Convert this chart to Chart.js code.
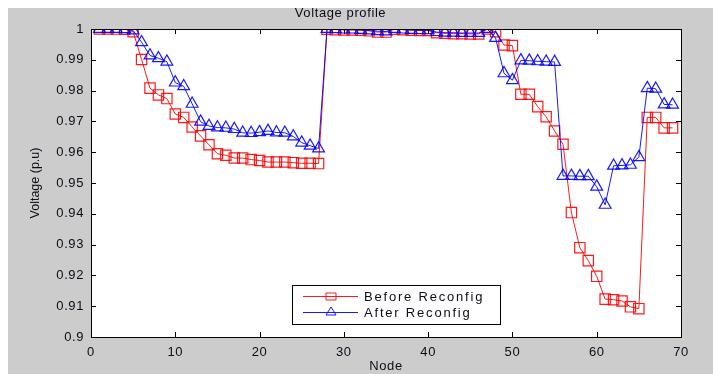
<!DOCTYPE html>
<html>
<head>
<meta charset="utf-8">
<script src="https://cdn.jsdelivr.net/npm/chart.js@4.4.1/dist/chart.umd.min.js"></script>
<style>
  html, body { margin: 0; padding: 0; background: #fff; }
  #myChart { display: block; }
</style>
</head>
<body>
<canvas id="myChart" width="713" height="374"></canvas>
<script>
const nodes = [1,2,3,4,5,6,7,8,9,10,11,12,13,14,15,16,17,18,19,20,21,22,23,24,25,26,27,28,29,30,
  31,32,33,34,35,36,37,38,39,40,41,42,43,44,45,46,47,48,49,50,51,52,53,54,55,56,57,58,59,60,
  61,62,63,64,65,66,67,68,69];

// before reconfiguration
const beforeV = [1.0000,1.0000,0.99997,0.99993,0.9991,0.9901,0.9808,0.9786,0.9774,0.9724,
  0.9713,0.9682,0.9653,0.9624,0.9595,0.9590,0.9581,0.9581,0.9576,0.9573,
  0.9568,0.9568,0.9568,0.9566,0.9564,0.9564,0.9563,0.9999,0.9998,0.9997,
  0.9997,0.9996,0.9994,0.9990,0.9990,0.9999,0.9998,0.9996,0.9995,0.9995,
  0.9988,0.9986,0.9985,0.9985,0.9984,0.9984,0.99998,0.9991,0.9948,0.9946,
  0.9788,0.9788,0.9748,0.9715,0.9669,0.9626,0.9404,0.9290,0.9248,0.9197,
  0.9123,0.9121,0.9117,0.9098,0.9092,0.9713,0.9713,0.9679,0.9679];

// after reconfiguration
const afterV = [1.0000,1.0000,1.0000,0.99995,0.9995,0.9957,0.9914,0.9905,0.9894,0.9826,
  0.9814,0.9757,0.9699,0.9685,0.9680,0.9679,0.9675,0.9663,0.9662,0.9665,
  0.9669,0.9664,0.9663,0.9651,0.9631,0.9621,0.9612,1.0000,0.9999,0.9998,
  0.9998,0.9997,0.9995,0.9993,0.9992,1.0000,0.9998,0.9997,0.9996,0.9996,
  0.9990,0.9988,0.9988,0.9987,0.9987,0.9987,1.0000,0.9971,0.9856,0.9834,
  0.9898,0.9897,0.9895,0.9894,0.9893,0.9523,0.9523,0.9522,0.9522,0.9488,
  0.9429,0.9556,0.9557,0.9559,0.9584,0.9808,0.9806,0.9755,0.9754];

const xTicks = [0,10,20,30,40,50,60,70];
const yTicks = [0.9,0.91,0.92,0.93,0.94,0.95,0.96,0.97,0.98,0.99,1];

const seriesNames = ["Before Reconfig", "After Reconfig"];
const titleText = "Voltage profile";
const xTitle = "Node";
const yTitle = "Voltage (p.u)";

const RED = "rgba(255, 0, 0, 0.9)";
const BLUE = "rgba(0, 0, 255, 0.9)";
const FONT = "'Liberation Sans', Arial, sans-serif";
const INK = "#0d0d1a";

function toPoints(vals) {
  return nodes.map((n, i) => ({ x: n, y: vals[i] }));
}

const matlabLook = {
  id: 'matlabLook',
  beforeDraw(chart) {
    const ctx = chart.ctx;
    const a = chart.chartArea;
    ctx.fillStyle = '#ffffff';
    ctx.fillRect(0, 0, chart.width, chart.height);
    ctx.fillStyle = '#cccccc';
    ctx.fillRect(8, 8, chart.width - 8, chart.height - 8);
    ctx.fillStyle = '#ffffff';
    ctx.fillRect(a.left, a.top, a.right - a.left, a.bottom - a.top);
    ctx.letterSpacing = '0.6px';
  },
  afterDraw(chart) {
    const ctx = chart.ctx;
    const a = chart.chartArea;
    const xs = chart.scales.x, ys = chart.scales.y;
    ctx.save();
    ctx.letterSpacing = '0px';
    ctx.strokeStyle = '#000';
    ctx.lineWidth = 1;
    ctx.strokeRect(Math.round(a.left) + 0.5, Math.round(a.top) + 0.5,
      Math.round(a.right - a.left), Math.round(a.bottom - a.top));
    // inward ticks on all sides
    ctx.beginPath();
    xTicks.forEach(v => {
      const px = Math.round(xs.getPixelForValue(v)) + 0.5;
      ctx.moveTo(px, a.bottom); ctx.lineTo(px, a.bottom - 5);
      ctx.moveTo(px, a.top); ctx.lineTo(px, a.top + 5);
    });
    yTicks.forEach(v => {
      const py = Math.round(ys.getPixelForValue(v)) + 0.5;
      ctx.moveTo(a.left, py); ctx.lineTo(a.left + 5, py);
      ctx.moveTo(a.right, py); ctx.lineTo(a.right - 5, py);
    });
    ctx.stroke();

    // y axis title, rotated
    ctx.fillStyle = INK;
    ctx.font = '12.5px ' + FONT;
    ctx.textAlign = 'center';
    ctx.textBaseline = 'middle';
    ctx.translate(36, (a.top + a.bottom) / 2);
    ctx.rotate(-Math.PI / 2);
    ctx.fillText(yTitle, 0, 0);
    ctx.restore();

    // legend box
    ctx.save();
    const bx = 292.5, by = 285.5, bw = 208, bh = 39;
    ctx.fillStyle = '#fff';
    ctx.fillRect(bx, by, bw, bh);
    ctx.strokeStyle = '#000';
    ctx.lineWidth = 1;
    ctx.strokeRect(bx, by, bw, bh);
    const rows = [
      { y: 296, color: RED, name: seriesNames[0], shape: 'rect' },
      { y: 312, color: BLUE, name: seriesNames[1], shape: 'tri' }
    ];
    rows.forEach(r => {
      ctx.strokeStyle = r.color;
      ctx.beginPath();
      ctx.moveTo(303, r.y + 0.5); ctx.lineTo(358, r.y + 0.5);
      ctx.stroke();
      const cx = 331;
      ctx.beginPath();
      if (r.shape === 'rect') {
        ctx.rect(cx - 5, r.y - 3, 10, 7);
      } else {
        ctx.moveTo(cx, r.y - 5); ctx.lineTo(cx + 5, r.y + 3); ctx.lineTo(cx - 5, r.y + 3); ctx.closePath();
      }
      ctx.stroke();
      ctx.fillStyle = INK;
      ctx.font = '13px ' + FONT;
      ctx.letterSpacing = '1.8px';
      ctx.textAlign = 'left';
      ctx.textBaseline = 'middle';
      ctx.fillText(r.name, 364, r.y + 1);
    });
    ctx.restore();
  }
};

new Chart("myChart", {
  type: 'line',
  data: {
    datasets: [{
      label: seriesNames[0],
      data: toPoints(beforeV),
      borderColor: RED,
      backgroundColor: 'transparent',
      borderWidth: 1,
      pointStyle: 'rect',
      pointRadius: 7.3,
      pointBorderWidth: 1.2,
      pointBorderColor: RED,
      pointBackgroundColor: 'transparent',
      tension: 0,
      order: 1
    }, {
      label: seriesNames[1],
      data: toPoints(afterV),
      borderColor: BLUE,
      backgroundColor: 'transparent',
      borderWidth: 1,
      pointStyle: 'triangle',
      pointRadius: 6.8,
      pointBorderWidth: 1.2,
      pointBorderColor: BLUE,
      pointBackgroundColor: 'transparent',
      tension: 0,
      order: 0
    }]
  },
  options: {
    responsive: false,
    animation: false,
    events: [],
    layout: { padding: { left: 0, right: 32, top: 0, bottom: 0 } },
    plugins: {
      legend: { display: false },
      tooltip: { enabled: false },
      title: {
        display: true,
        text: titleText,
        color: INK,
        font: { family: FONT, size: 13, weight: 'normal' },
        padding: { top: 6, bottom: 7.4 }
      }
    },
    scales: {
      x: {
        type: 'linear',
        min: 0, max: 70,
        afterFit(scale) { scale.height = 37; },
        afterBuildTicks(scale) { scale.ticks = xTicks.map(v => ({ value: v })); },
        grid: { display: false, drawTicks: false },
        border: { display: false },
        ticks: { color: INK, padding: 8, maxRotation: 0, font: { family: FONT, size: 13 } },
        title: { display: true, text: xTitle, color: INK, padding: { top: 0, bottom: 0 },
                 font: { family: FONT, size: 13 } }
      },
      y: {
        type: 'linear',
        min: 0.9, max: 1,
        afterFit(scale) { scale.width = 91; },
        afterBuildTicks(scale) { scale.ticks = yTicks.map(v => ({ value: v })); },
        grid: { display: false, drawTicks: false },
        border: { display: false },
        ticks: {
          color: INK, padding: 7, font: { family: FONT, size: 13 },
          callback: v => String(Number(v.toFixed(2)))
        }
      }
    }
  },
  plugins: [matlabLook]
});
</script>
</body>
</html>
